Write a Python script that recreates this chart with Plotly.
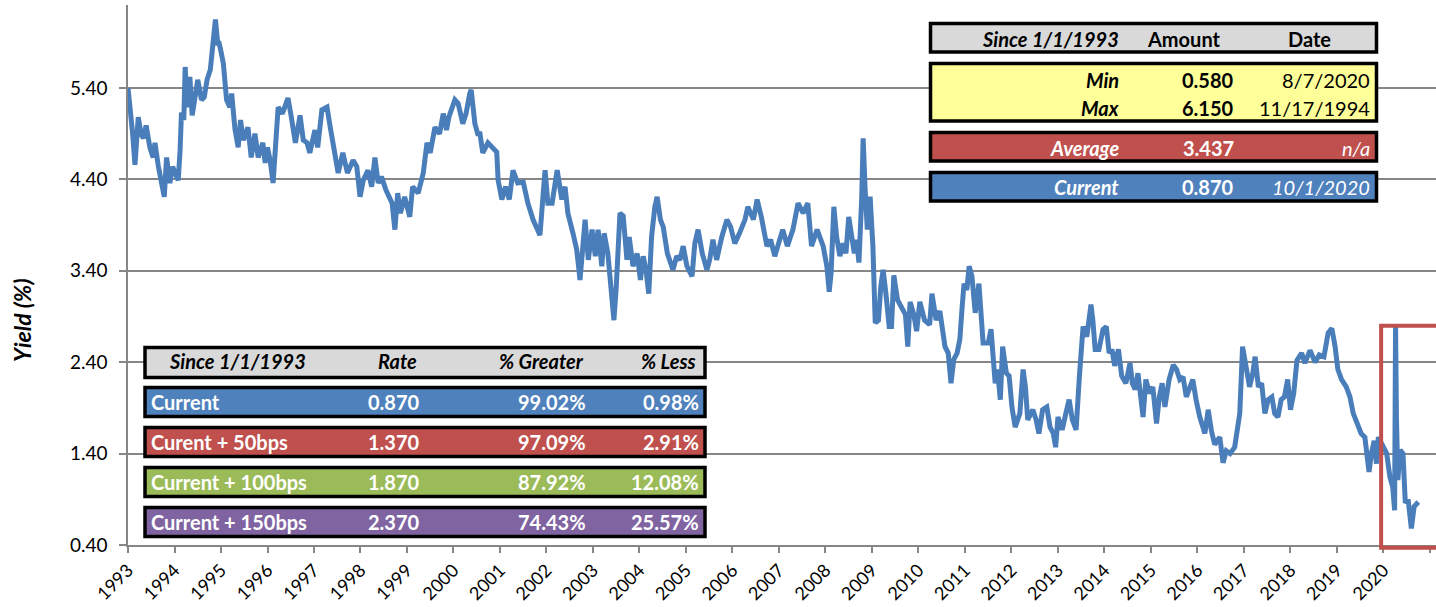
import plotly.graph_objects as go

# ---------------- data ----------------
obs_year = [
    1993.00, 1993.05, 1993.10, 1993.15, 1993.22, 1993.28, 1993.33, 1993.39, 1993.47, 1993.54,
    1993.58, 1993.65, 1993.72, 1993.78, 1993.83, 1993.90, 1993.96, 1994.04, 1994.08, 1994.12,
    1994.15, 1994.20, 1994.23, 1994.27, 1994.33, 1994.38, 1994.44, 1994.50, 1994.58, 1994.64,
    1994.70, 1994.77, 1994.84, 1994.88, 1994.93, 1994.96, 1995.00, 1995.05, 1995.12, 1995.19,
    1995.23, 1995.30, 1995.37, 1995.42, 1995.48, 1995.58, 1995.65, 1995.73, 1995.80, 1995.90,
    1995.95, 1996.00, 1996.06, 1996.12, 1996.20, 1996.23, 1996.32, 1996.44, 1996.50, 1996.60,
    1996.70, 1996.77, 1996.85, 1996.91, 1997.02, 1997.08, 1997.17, 1997.28, 1997.35, 1997.40,
    1997.46, 1997.52, 1997.62, 1997.72, 1997.84, 1997.92, 1997.99, 1998.06, 1998.16, 1998.24,
    1998.31, 1998.38, 1998.45, 1998.55, 1998.68, 1998.74, 1998.80, 1998.86, 1998.95, 1999.06,
    1999.12, 1999.24, 1999.35, 1999.43, 1999.50, 1999.60, 1999.70, 1999.78, 1999.85, 1999.90,
    2000.03, 2000.10, 2000.20, 2000.27, 2000.35, 2000.38, 2000.46, 2000.52, 2000.57, 2000.63,
    2000.74, 2000.85, 2000.93, 2000.96, 2001.04, 2001.12, 2001.20, 2001.28, 2001.38, 2001.50,
    2001.60, 2001.71, 2001.78, 2001.86, 2001.93, 2001.97, 2002.03, 2002.12, 2002.23, 2002.33,
    2002.40, 2002.46, 2002.57, 2002.65, 2002.69, 2002.72, 2002.77, 2002.83, 2002.90, 2002.98,
    2003.05, 2003.11, 2003.19, 2003.24, 2003.32, 2003.41, 2003.45, 2003.50, 2003.58, 2003.65,
    2003.73, 2003.78, 2003.86, 2003.95, 2004.02, 2004.08, 2004.14, 2004.20, 2004.26, 2004.33,
    2004.38, 2004.45, 2004.51, 2004.60, 2004.72, 2004.80, 2004.87, 2004.94, 2005.02, 2005.13,
    2005.19, 2005.26, 2005.35, 2005.45, 2005.51, 2005.58, 2005.66, 2005.77, 2005.88, 2005.96,
    2006.05, 2006.15, 2006.27, 2006.33, 2006.45, 2006.53, 2006.62, 2006.74, 2006.82, 2006.91,
    2006.98, 2007.08, 2007.18, 2007.30, 2007.41, 2007.52, 2007.62, 2007.70, 2007.82, 2007.95,
    2008.03, 2008.08, 2008.12, 2008.18, 2008.24, 2008.31, 2008.38, 2008.44, 2008.50, 2008.56,
    2008.62, 2008.67, 2008.72, 2008.78, 2008.81, 2008.85, 2008.90, 2008.96, 2009.02, 2009.07,
    2009.14, 2009.19, 2009.24, 2009.30, 2009.37, 2009.42, 2009.47, 2009.55, 2009.65, 2009.72,
    2009.77, 2009.82, 2009.90, 2009.96, 2010.03, 2010.13, 2010.24, 2010.29, 2010.38, 2010.46,
    2010.57, 2010.64, 2010.70, 2010.76, 2010.83, 2010.89, 2010.94, 2010.98, 2011.04, 2011.09,
    2011.15, 2011.22, 2011.30, 2011.39, 2011.50, 2011.56, 2011.65, 2011.70, 2011.76, 2011.81,
    2011.89, 2011.95, 2012.01, 2012.08, 2012.18, 2012.25, 2012.30, 2012.35, 2012.46, 2012.53,
    2012.59, 2012.67, 2012.76, 2012.83, 2012.90, 2012.95, 2013.00, 2013.09, 2013.17, 2013.24,
    2013.31, 2013.39, 2013.46, 2013.54, 2013.62, 2013.71, 2013.75, 2013.80, 2013.88, 2013.97,
    2014.04, 2014.10, 2014.16, 2014.22, 2014.30, 2014.37, 2014.46, 2014.55, 2014.60, 2014.66,
    2014.72, 2014.83, 2014.89, 2014.97, 2015.04, 2015.12, 2015.18, 2015.24, 2015.30, 2015.39,
    2015.48, 2015.55, 2015.62, 2015.69, 2015.76, 2015.83, 2015.90, 2015.97, 2016.05, 2016.16,
    2016.23, 2016.30, 2016.37, 2016.48, 2016.55, 2016.62, 2016.70, 2016.80, 2016.85, 2016.91,
    2016.97, 2017.04, 2017.12, 2017.19, 2017.24, 2017.31, 2017.38, 2017.45, 2017.52, 2017.60,
    2017.66, 2017.73, 2017.80, 2017.87, 2017.94, 2018.00, 2018.07, 2018.14, 2018.24, 2018.31,
    2018.42, 2018.53, 2018.62, 2018.72, 2018.81, 2018.89, 2018.96, 2019.02, 2019.10, 2019.20,
    2019.28, 2019.35, 2019.43, 2019.52, 2019.60, 2019.65, 2019.69, 2019.74, 2019.80, 2019.85,
    2019.89, 2020.00, 2020.07, 2020.14, 2020.20, 2020.24, 2020.26, 2020.28, 2020.31, 2020.36,
    2020.42, 2020.47, 2020.53, 2020.60, 2020.66, 2020.75,
]

yield_pct = [
    5.40, 5.20, 4.90, 4.56, 5.08, 4.90, 4.85, 4.99, 4.75, 4.64,
    4.80, 4.55, 4.35, 4.21, 4.64, 4.36, 4.54, 4.45, 4.39, 4.72,
    5.13, 5.05, 5.63, 5.19, 5.52, 5.10, 5.35, 5.49, 5.27, 5.30,
    5.49, 5.60, 5.95, 6.15, 5.89, 5.89, 5.80, 5.67, 5.27, 5.19,
    5.34, 4.95, 4.75, 5.05, 4.83, 4.97, 4.64, 4.90, 4.64, 4.80,
    4.58, 4.75, 4.60, 4.36, 4.97, 5.19, 5.12, 5.29, 5.12, 4.80,
    5.10, 4.83, 4.80, 4.69, 4.94, 4.75, 5.16, 5.19, 4.97, 4.83,
    4.70, 4.47, 4.69, 4.47, 4.61, 4.54, 4.21, 4.39, 4.50, 4.32,
    4.64, 4.36, 4.43, 4.28, 4.14, 3.85, 4.25, 4.03, 4.21, 3.99,
    4.32, 4.25, 4.47, 4.80, 4.69, 4.97, 4.90, 5.12, 4.94, 5.08,
    5.27, 5.23, 5.01, 5.12, 5.34, 5.38, 5.01, 4.90, 4.90, 4.69,
    4.80, 4.73, 4.70, 4.39, 4.18, 4.32, 4.18, 4.50, 4.36, 4.37,
    4.14, 3.96, 3.88, 3.79, 4.25, 4.50, 4.14, 4.14, 4.50, 4.18,
    4.32, 4.03, 3.81, 3.63, 3.45, 3.30, 3.59, 3.96, 3.52, 3.85,
    3.56, 3.85, 3.45, 3.81, 3.59, 3.15, 2.86, 3.22, 4.03, 4.00,
    3.52, 3.77, 3.45, 3.59, 3.30, 3.56, 3.41, 3.15, 3.77, 4.10,
    4.21, 3.96, 3.88, 3.59, 3.41, 3.56, 3.52, 3.67, 3.45, 3.34,
    3.70, 3.85, 3.59, 3.41, 3.52, 3.74, 3.52, 3.77, 3.96, 3.88,
    3.70, 3.81, 3.96, 4.10, 3.96, 4.18, 3.99, 3.67, 3.74, 3.56,
    3.67, 3.85, 3.67, 3.85, 4.14, 4.03, 4.14, 3.67, 3.85, 3.67,
    3.45, 3.17, 3.37, 4.10, 3.77, 3.56, 3.70, 3.59, 3.99, 3.81,
    3.59, 3.74, 3.49, 4.21, 4.85, 4.32, 3.85, 4.21, 3.67, 2.83,
    2.86, 3.23, 3.41, 3.15, 2.79, 2.79, 3.35, 3.08, 2.99, 2.92,
    2.57, 3.06, 2.92, 2.74, 3.06, 2.86, 2.81, 3.15, 2.86, 2.96,
    2.57, 2.50, 2.17, 2.43, 2.50, 2.65, 3.01, 3.26, 3.19, 3.45,
    3.34, 2.94, 3.26, 2.61, 2.61, 2.76, 2.17, 2.32, 1.99, 2.57,
    2.28, 2.25, 1.91, 1.69, 1.84, 2.32, 2.13, 1.77, 1.88, 1.77,
    1.62, 1.88, 1.91, 1.69, 1.62, 1.47, 1.80, 1.66, 1.84, 1.99,
    1.77, 1.66, 2.24, 2.79, 2.68, 3.03, 2.86, 2.54, 2.54, 2.76,
    2.79, 2.50, 2.54, 2.36, 2.54, 2.25, 2.17, 2.39, 2.17, 2.10,
    2.28, 1.80, 2.21, 2.06, 2.13, 1.73, 2.02, 2.17, 1.91, 2.21,
    2.37, 2.32, 2.21, 2.24, 2.02, 2.10, 2.21, 1.99, 1.80, 1.62,
    1.88, 1.65, 1.50, 1.58, 1.30, 1.43, 1.40, 1.47, 1.69, 1.84,
    2.57, 2.35, 2.13, 2.28, 2.46, 2.13, 2.17, 1.84, 1.99, 2.02,
    1.84, 1.80, 1.99, 2.02, 2.21, 1.88, 2.06, 2.42, 2.50, 2.39,
    2.53, 2.40, 2.48, 2.46, 2.72, 2.77, 2.57, 2.32, 2.21, 2.13,
    2.02, 1.84, 1.73, 1.62, 1.58, 1.40, 1.20, 1.40, 1.54, 1.29,
    1.58, 1.47, 1.40, 1.14, 1.03, 0.78, 2.80, 1.77, 1.11, 1.44,
    1.40, 0.86, 0.90, 0.58, 0.82, 0.87,
]

year_ticks = list(range(1993, 2022))
year_labels = [str(y) for y in range(1993, 2021)] + [""]
yield_ticks = [0.40, 1.40, 2.40, 3.40, 4.40, 5.40]

stats_header = ["Since 1/1/1993", "Amount", "Date"]
stats_labels = ["Min", "Max", "Average", "Current"]
stats_amount = ["0.580", "6.150", "3.437", "0.870"]
stats_date = ["8/7/2020", "11/17/1994", "n/a", "10/1/2020"]

scen_header = ["Since 1/1/1993", "Rate", "% Greater", "% Less"]
scen_labels = ["Current", "Curent + 50bps", "Current + 100bps", "Current + 150bps"]
scen_rate = ["0.870", "1.370", "1.870", "2.370"]
scen_greater = ["99.02%", "97.09%", "87.92%", "74.43%"]
scen_less = ["0.98%", "2.91%", "12.08%", "25.57%"]

highlight_start = 2020.0
highlight_top = 2.80
highlight_bottom = 0.37

# ---------------- layout helpers ----------------
W, H = 1436, 607
ML, MR, MT, MB = 128, 0, 5, 62
Y_MIN, Y_MAX = 0.4, 6.308
X_MIN, X_MAX = 1993.0, 2021.13

def px(x):
    return (x - ML) / (W - ML - MR)

def py(y):
    return (H - MB - y) / (H - MT - MB)

FONT = "Lato"
BLUE = "#4F81BD"
RED = "#C0504D"
GREEN = "#9BBB59"
PURPLE = "#8064A2"
GRAY = "#D9D9D9"
YELLOW = "#FFFF99"
AXIS = "#868686"

fig = go.Figure()
fig.add_trace(go.Scatter(
    x=obs_year, y=yield_pct, mode="lines",
    line=dict(color="#4A7EBB", width=5),
    hoverinfo="skip", showlegend=False,
))

shapes = []
annotations = []

def box(x0, y0, x1, y1, fill):
    shapes.append(dict(type="rect", xref="paper", yref="paper",
                       x0=px(x0), x1=px(x1), y0=py(y1), y1=py(y0),
                       fillcolor=fill, line=dict(color="black", width=3.5),
                       layer="above"))

def text(x, y, s, anchor, color="black", size=20):
    annotations.append(dict(xref="paper", yref="paper", x=px(x), y=py(y),
                            text=s, showarrow=False, xanchor=anchor,
                            yanchor="middle",
                            font=dict(family=FONT, size=size, color=color)))

# ---- top-right stats table ----
TX0, TX1 = 930.5, 1376.5
box(TX0, 23.5, TX1, 52, GRAY)
text(1121, 39, "<b><i>" + stats_header[0] + "</i></b>", "right")
text(1184, 39, "<b>" + stats_header[1] + "</b>", "center")
text(1309, 39, "<b>" + stats_header[2] + "</b>", "center")

box(TX0, 63.5, TX1, 121, YELLOW)
box(TX0, 132.5, TX1, 161, RED)
box(TX0, 172.5, TX1, 201, BLUE)
stat_rows = [(80, "black"), (108, "black"), (148, "white"), (187, "white")]
for i, (ry, col) in enumerate(stat_rows):
    text(1121, ry, "<b><i>" + stats_labels[i] + "</i></b>", "right", col)
    text(1236, ry, "<b>" + stats_amount[i] + "</b>", "right", col)
    dt = stats_date[i] if i < 2 else "<i>" + stats_date[i] + "</i>"
    text(1372, ry, dt, "right", col)

# ---- bottom-left scenario table ----
BX0, BX1 = 145, 705
box(BX0, 347.5, BX1, 377.5, GRAY)
text(237, 361, "<b><i>" + scen_header[0] + "</i></b>", "center")
text(397, 361, "<b><i>" + scen_header[1] + "</i></b>", "center")
text(586, 361, "<b><i>" + scen_header[2] + "</i></b>", "right")
text(698, 361, "<b><i>" + scen_header[3] + "</i></b>", "right")
row_fill = [BLUE, RED, GREEN, PURPLE]
row_top = [387.5, 427.5, 467.5, 507.5]
for i in range(4):
    t = row_top[i]
    box(BX0, t, BX1, t + 29, row_fill[i])
    cy = t + 14.5
    text(149, cy, "<b>" + scen_labels[i] + "</b>", "left", "white")
    text(422, cy, "<b>" + scen_rate[i] + "</b>", "right", "white")
    text(588, cy, "<b>" + scen_greater[i] + "</b>", "right", "white")
    text(701, cy, "<b>" + scen_less[i] + "</b>", "right", "white")

# ---- red highlight rectangle (data x, y) ----
def yfrac(v):
    return (v - Y_MIN) / (Y_MAX - Y_MIN)

shapes.append(dict(type="rect", xref="x", yref="paper",
                   x0=highlight_start - 0.05, x1=X_MAX + 1,
                   y0=yfrac(highlight_bottom), y1=yfrac(highlight_top),
                   line=dict(color=RED, width=4), fillcolor="rgba(0,0,0,0)",
                   layer="above"))

# ---- y axis title ----
annotations.append(dict(xref="paper", yref="paper", x=px(22), y=py(320),
                        text="<b><i>Yield (%)</i></b>", textangle=-90,
                        showarrow=False, xanchor="center", yanchor="middle",
                        font=dict(family=FONT, size=23, color="black")))

fig.update_layout(
    width=W, height=H, autosize=False,
    margin=dict(l=ML, r=MR, t=MT, b=MB, pad=0),
    paper_bgcolor="white", plot_bgcolor="white",
    font=dict(family=FONT, size=19, color="black"),
    shapes=shapes, annotations=annotations,
    xaxis=dict(range=[X_MIN, X_MAX], tickvals=year_ticks, ticktext=year_labels,
               tickangle=-45, showgrid=False, zeroline=False,
               showline=True, linecolor=AXIS, linewidth=1.5,
               ticks="outside", ticklen=6, tickcolor=AXIS, tickwidth=1.5,
               tickfont=dict(family=FONT, size=18, color="black")),
    yaxis=dict(range=[Y_MIN, Y_MAX], tickvals=yield_ticks,
               ticktext=[f"{v:.2f}" for v in yield_ticks],
               showgrid=True, gridcolor=AXIS, gridwidth=1.5, zeroline=False,
               showline=True, linecolor=AXIS, linewidth=1.5,
               ticks="outside", ticklen=7, tickcolor=AXIS, tickwidth=1.5,
               ticklabelstandoff=8,
               tickfont=dict(family=FONT, size=19, color="black")),
)

fig.write_html("out.html", config={"displayModeBar": False},
               post_script="document.body.style.margin='0';")
